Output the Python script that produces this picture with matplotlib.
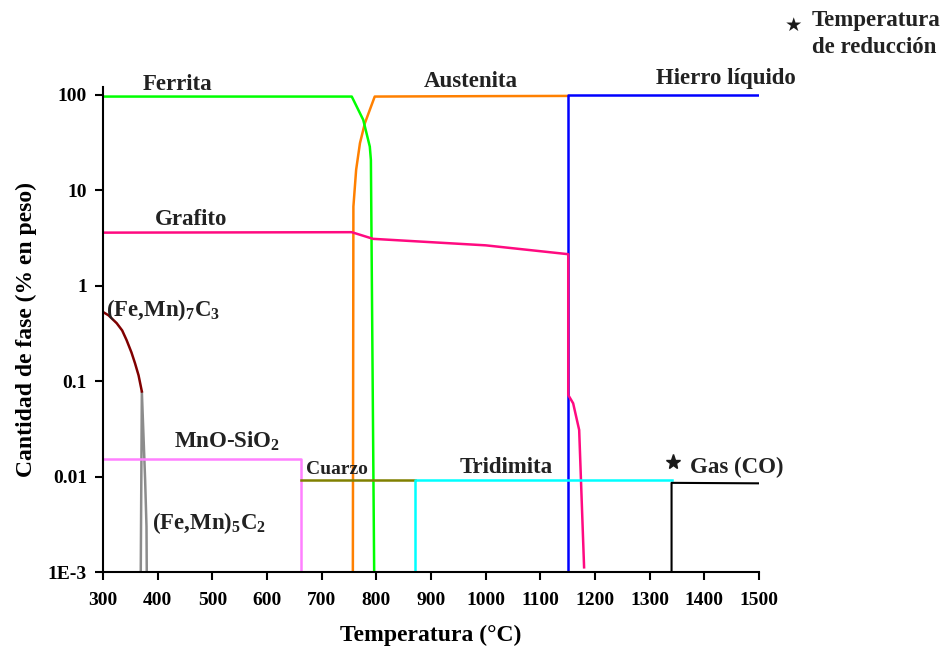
import matplotlib
matplotlib.use("Agg")
import matplotlib.pyplot as plt
from matplotlib.ticker import FixedLocator, FixedFormatter, NullLocator

plt.rcParams['font.family'] = ['Liberation Serif', 'DejaVu Serif']
plt.rcParams['font.weight'] = 'bold'
plt.rcParams['axes.labelweight'] = 'bold'
plt.rcParams['mathtext.default'] = 'regular'

# datos
ferrita_T = [300, 755, 776, 788, 790, 796]
ferrita_w = [96, 96, 54.7, 28.7, 20.8, 1e-3]

austenita_T = [757, 758, 763, 770, 779, 797, 1000, 1151, 1151]
austenita_w = [1e-3, 6.75, 16.4, 31.2, 50.5, 96, 97, 97.5, 97.5]

liquido_T = [1151, 1151, 1500]
liquido_w = [1e-3, 100, 100]

grafito_T = [300, 755, 794, 1000, 1151, 1151, 1160, 1171, 1180]
grafito_w = [3.6, 3.64, 3.1, 2.65, 2.14, 0.0716, 0.0586, 0.0308, 0.00112]

fe7c3_T = [300, 310, 325, 335, 343, 352, 358.5, 365, 371]
fe7c3_w = [0.53, 0.49, 0.405, 0.34, 0.27, 0.2, 0.154, 0.115, 0.078]

fe5c2_T = [369, 371, 377, 379.5, 380]
fe5c2_w = [1e-3, 0.078, 0.0092, 0.003, 1e-3]

mnosio2_T = [300, 663, 663]
mnosio2_w = [0.0153, 0.0153, 1e-3]

cuarzo_T = [663, 870]
cuarzo_w = [0.0093, 0.0093]

tridimita_T = [870, 870, 1340]
tridimita_w = [1e-3, 0.0093, 0.0093]

gas_T = [1340, 1340, 1500]
gas_w = [1e-3, 0.0086, 0.0085]

fig = plt.figure(figsize=(9.47, 6.49), dpi=100)
ax = fig.add_axes([0.1088, 0.1186, 0.6927, 0.7474])

lw = 1.8
ax.plot(austenita_T, austenita_w, color='#ff8000', lw=lw)
ax.plot(ferrita_T, ferrita_w, color='#00ff00', lw=lw)
ax.plot(liquido_T, liquido_w, color='#0000ff', lw=lw)
ax.plot(grafito_T, grafito_w, color='#ff0a80', lw=lw)
ax.plot(fe5c2_T, fe5c2_w, color='#8c8c8c', lw=lw)
ax.plot(fe7c3_T, fe7c3_w, color='#800000', lw=lw)
ax.plot(mnosio2_T, mnosio2_w, color='#ff80ff', lw=lw)
ax.plot(cuarzo_T, cuarzo_w, color='#808000', lw=lw)
ax.plot(tridimita_T, tridimita_w, color='#00ffff', lw=lw)
ax.plot(gas_T, gas_w, color='black', lw=1.5)
ax.plot([1343], [0.0142], marker='*', color='#1a1a1a', ms=11, ls='none')

ax.set_yscale('log')
ax.set_xlim(300, 1500)
ax.set_ylim(1e-3, 121)
ax.set_xticks(range(300, 1600, 100))
ax.yaxis.set_major_locator(FixedLocator([1e-3, 0.01, 0.1, 1, 10, 100]))
ax.yaxis.set_major_formatter(FixedFormatter(['1E-3', '0.01', '0.1', '1', '10', '100']))
ax.yaxis.set_minor_locator(NullLocator())
ax.spines['top'].set_visible(False)
ax.spines['right'].set_visible(False)
for s in ('left', 'bottom'):
    ax.spines[s].set_linewidth(1.5)
ax.tick_params(direction='out', length=6, width=1.5, labelsize=14)
ax.tick_params(axis='x', pad=8.5)
ax.tick_params(axis='y', pad=5.5)

ax.set_xlabel('Temperatura (°C)', fontsize=17, labelpad=11)
ax.set_ylabel('Cantidad de fase (% en peso)', fontsize=17, labelpad=8)

tc = '#222222'
fs = 16.5
ax.text(437, 127, 'Ferrita', fontsize=fs, ha='center', va='center', color=tc, clip_on=False)
ax.text(973, 137, 'Austenita', fontsize=fs, ha='center', va='center', color=tc, clip_on=False)
ax.text(1440, 148, 'Hierro líquido', fontsize=fs, ha='center', va='center', color=tc, clip_on=False)
ax.text(461, 5.0, 'Grafito', fontsize=fs, ha='center', va='center', color=tc)
ax.text(305, 0.56, '(Fe,Mn)$_7$C$_3$', fontsize=fs, ha='left', va='center', color=tc)
ax.text(526, 0.0236, 'MnO-SiO$_2$', fontsize=fs, ha='center', va='center', color=tc)
ax.text(671, 0.012, 'Cuarzo', fontsize=14, ha='left', va='center', color=tc)
ax.text(1037, 0.0126, 'Tridimita', fontsize=fs, ha='center', va='center', color=tc)
ax.text(390, 0.0033, '(Fe,Mn)$_5$C$_2$', fontsize=fs, ha='left', va='center', color=tc)
ax.text(1374, 0.0126, 'Gas (CO)', fontsize=fs, ha='left', va='center', color=tc)

fig.text(793 / 947, 1 - 25 / 649, '\u2605', fontsize=14, ha='center', va='center',
         color='#1a1a1a', family=['DejaVu Sans'])
fig.text(812 / 947, 1 - 34 / 649, 'Temperatura\nde reducción', fontsize=fs, ha='left',
         va='center', color=tc, linespacing=1.4)

fig.savefig('out.png', dpi=100)
